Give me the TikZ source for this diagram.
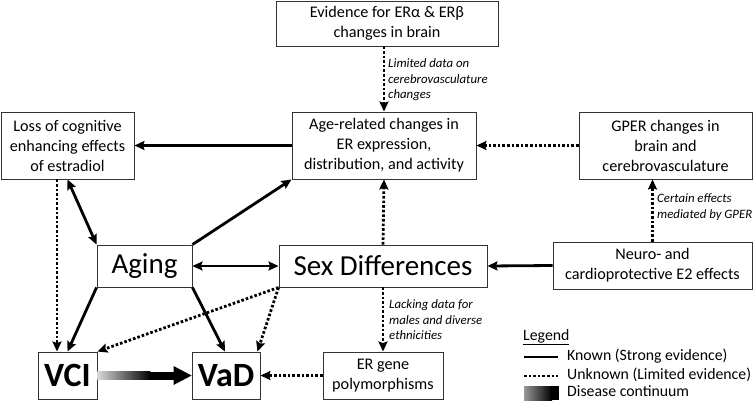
\documentclass[tikz,border=0pt]{standalone}
\usepackage{fontspec}
\setmainfont{Carlito}
\usetikzlibrary{arrows.meta,calc}
\tikzset{
  tip/.tip={Stealth[length=10pt,width=9pt,inset=1.5pt]},
  box/.style={draw=black!80, line width=0.9pt, rectangle, inner sep=0pt, align=center,
    font=\fontsize{16.2}{20}\selectfont},
  bigbox/.style={box, font=\fontsize{29}{32}\selectfont},
  vbox/.style={box, font=\fontsize{34}{36}\selectfont\bfseries},
  known/.style={line width=2.8pt, -tip},
  knownboth/.style={line width=2.8pt, tip-tip},
  unknown/.style={line width=2.8pt, dash pattern=on 2.6pt off 2pt, -tip},
  note/.style={font=\fontsize{12.8}{15.5}\selectfont\itshape, align=left, anchor=west, inner sep=0pt},
  legtext/.style={font=\fontsize{15.8}{18}\selectfont, anchor=west, inner sep=0pt}
}
\begin{document}
\begin{tikzpicture}[x=1pt,y=-1pt]
\useasboundingbox (0,0) rectangle (755,400);
% boxes
\node[box, minimum width=222pt, minimum height=45pt] (evid) at (387,23.5) {Evidence for ERα \& ERβ\\changes in brain};
\node[box, minimum width=184pt, minimum height=67pt] (age) at (384,145.5) {Age-related changes in\\ER expression,\\distribution, and activity};
\node[box, minimum width=133pt, minimum height=67pt] (loss) at (67.5,145.5) {Loss of cognitive\\enhancing effects\\of estradiol};
\node[box, minimum width=173pt, minimum height=67pt] (gper) at (665.5,145.5) {GPER changes in\\brain and\\cerebrovasculature};
\node[box, minimum width=199pt, minimum height=47pt] (neuro) at (652.5,265.5) {Neuro- and\\cardioprotective E2 effects};
\node[bigbox, minimum width=95pt, minimum height=42pt] (aging) at (144.5,266) {Aging};
\node[bigbox, minimum width=208pt, minimum height=42pt] (sex) at (383,266) {Sex Differences};
\node[vbox, minimum width=59pt, minimum height=47pt] (vci) at (67.5,375.5) {VCI};
\node[vbox, minimum width=68pt, minimum height=47pt] (vad) at (226,375.5) {VaD};
\node[box, minimum width=120pt, minimum height=47pt] (erg) at (383,375.5) {ER gene\\polymorphisms};
% connectors
\draw[unknown] (age.north |- evid.south) -- (age.north);
\draw[known] (age.west) -- (loss.east);
\draw[unknown] (gper.west) -- (age.east);
\draw[unknown] ($(loss.south)+(-10.5,0)$) -- ($(vci.north)+(-10.5,0)$);
\draw[knownboth] (loss.south) -- (aging.north west);
\draw[known] (aging.north east) -- (age.south west);
\draw[knownboth] (aging.east) -- (sex.west);
\draw[unknown] (sex.north) -- (age.south);
\draw[known] (neuro.west) -- (sex.east);
\draw[unknown] (neuro.north) -- (neuro.north |- gper.south);
\draw[known] (aging.south west) -- (vci.north);
\draw[known] (aging.south east) -- ($(vad.north)+(-1,0)$);
\draw[unknown] (sex.south west) -- (vci.north east);
\draw[unknown] (sex.south west) -- ($(vad.north east)+(-3,0)$);
\draw[unknown] (sex.south) -- (erg.north);
\draw[unknown] (erg.west) -- (vad.east);
% disease continuum arrow
\shade[left color=white!85!black, right color=black] ($(vci.east)+(0,-4)$) rectangle ($(vci.east)+(53,4)$);
\fill[black] ($(vci.east)+(52,-4)$) rectangle ($(vad.west)+(-17,4)$);
\fill[black] ($(vad.west)+(-18,-9.5)$) -- (vad.west) -- ($(vad.west)+(-18,9.5)$) -- cycle;
% notes
\node[note] (n1) at (388,80) {Limited data on\\cerebrovasculature\\changes};
\node[note] (n2) at (657,207) {Certain effects\\mediated by GPER};
\node[note] (n3) at (389,320) {Lacking data for\\males and diverse\\ethnicities};
% legend
\node[legtext] (leg) at (523,337) {\underline{Legend}};
\coordinate (l1a) at (524,357); \coordinate (l1b) at (558,357);
\coordinate (l2a) at (524,376); \coordinate (l2b) at (558,376);
\draw[line width=2.8pt] (l1a) -- (l1b);
\draw[line width=2.8pt, dash pattern=on 2.6pt off 2pt] (l2a) -- (l2b);
\shade[left color=white!60!black, right color=black] (524,386) rectangle (552,400);
\fill[black] (551,386) rectangle (559,400);
\node[legtext] (k1) at (567,356) {Known (Strong evidence)};
\node[legtext] (k2) at (567,375) {Unknown (Limited evidence)};
\node[legtext] (k3) at (567,391) {Disease continuum};
\end{tikzpicture}
\end{document}
